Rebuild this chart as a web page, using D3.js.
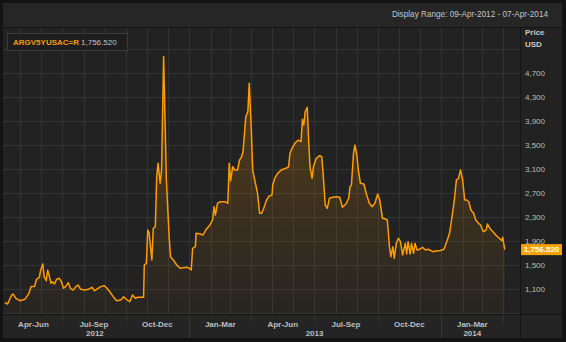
<!DOCTYPE html>
<html>
<head>
<meta charset="utf-8">
<script src="https://cdn.jsdelivr.net/npm/d3@7"></script>
<style>
	html, body { margin: 0; padding: 0; background: #131313; }
	svg { display: block; font-family: "Liberation Sans", Arial, sans-serif; }
</style>
</head>
<body>
<svg id="chart" width="566" height="342"></svg>
<script>
const ric = 'ARGV5YUSAC=R';
const displayRange = 'Display Range: 09-Apr-2012 - 07-Apr-2014';
const axisTitle = ['Price', 'USD'];

const dates = [
	'2012-04-09','2012-04-13','2012-04-19','2012-04-21','2012-04-25',
	'2012-05-01','2012-05-08','2012-05-14','2012-05-17','2012-05-22','2012-05-25','2012-05-29','2012-05-31',
	'2012-06-03','2012-06-05','2012-06-08','2012-06-10','2012-06-12','2012-06-15','2012-06-17','2012-06-20','2012-06-23','2012-06-27','2012-06-30',
	'2012-07-03','2012-07-06','2012-07-10','2012-07-13','2012-07-17','2012-07-21','2012-07-24','2012-07-28',
	'2012-08-03','2012-08-08','2012-08-13','2012-08-17','2012-08-22','2012-08-26','2012-08-31',
	'2012-09-04','2012-09-08','2012-09-13','2012-09-18','2012-09-24','2012-09-28',
	'2012-10-03','2012-10-07','2012-10-11','2012-10-15','2012-10-19','2012-10-27','2012-10-28','2012-10-31',
	'2012-11-02','2012-11-04','2012-11-08','2012-11-10','2012-11-13','2012-11-15','2012-11-17','2012-11-20','2012-11-22','2012-11-25','2012-11-27','2012-11-29',
	'2012-12-03','2012-12-05','2012-12-09','2012-12-14','2012-12-19','2012-12-28','2012-12-31',
	'2013-01-04','2013-01-06','2013-01-10','2013-01-11','2013-01-17','2013-01-21','2013-01-25','2013-01-31',
	'2013-02-04','2013-02-06','2013-02-08','2013-02-11','2013-02-15','2013-02-22','2013-02-26','2013-02-28',
	'2013-03-02','2013-03-05','2013-03-08','2013-03-12','2013-03-15','2013-03-18','2013-03-20','2013-03-24','2013-03-27','2013-03-29',
	'2013-04-01','2013-04-03','2013-04-06','2013-04-10','2013-04-13','2013-04-16','2013-04-19','2013-04-23','2013-04-27',
	'2013-05-01','2013-05-02','2013-05-05','2013-05-09','2013-05-12','2013-05-14','2013-05-17','2013-05-21','2013-05-25','2013-05-27','2013-05-30',
	'2013-06-03','2013-06-08','2013-06-12','2013-06-14','2013-06-16','2013-06-18','2013-06-21','2013-06-23','2013-06-25','2013-06-28','2013-06-30',
	'2013-07-04','2013-07-09','2013-07-12','2013-07-14','2013-07-17','2013-07-20','2013-07-23','2013-07-28',
	'2013-08-02','2013-08-07','2013-08-11','2013-08-16','2013-08-20','2013-08-22','2013-08-24','2013-08-27','2013-08-29',
	'2013-09-01','2013-09-03','2013-09-06','2013-09-11','2013-09-15','2013-09-19','2013-09-23','2013-09-27',
	'2013-10-01','2013-10-04','2013-10-08','2013-10-13','2013-10-15','2013-10-18','2013-10-20','2013-10-23','2013-10-25','2013-10-28','2013-10-31',
	'2013-11-03','2013-11-06','2013-11-10','2013-11-12','2013-11-14','2013-11-17','2013-11-19','2013-11-22','2013-11-24','2013-11-27',
	'2013-12-01','2013-12-05','2013-12-09','2013-12-13','2013-12-20','2013-12-26','2013-12-30',
	'2014-01-05','2014-01-09','2014-01-13','2014-01-16','2014-01-20','2014-01-23','2014-01-26','2014-01-29',
	'2014-02-01','2014-02-04','2014-02-07','2014-02-10','2014-02-13','2014-02-17','2014-02-20','2014-02-24','2014-02-27',
	'2014-03-03','2014-03-07','2014-03-09','2014-03-13','2014-03-17','2014-03-21','2014-03-26','2014-03-30','2014-03-31',
	'2014-04-03'
];

const prices = [
	872, 850, 1000, 1017, 945,
	905, 928, 1028, 1140, 1140, 1262, 1295, 1417,
	1517, 1305, 1238, 1417, 1333, 1195, 1222, 1183, 1262, 1278, 1222,
	1112, 1140, 1205, 1112, 1083, 1140, 1167, 1095,
	1083, 1095, 1128, 1072, 1112, 1140, 1155,
	1112, 1055, 972, 905, 917, 972,
	917, 888, 1000, 945, 962, 962, 1500, 1528,
	2083, 2028, 1583, 2112, 2138, 2972, 3195, 2862, 3083, 4972, 3972, 2917,
	1972, 1638, 1583, 1500, 1445, 1462, 1455,
	1417, 1778, 1805, 2028, 2017, 2000, 2083, 2167,
	2250, 2472, 2333, 2528, 2555, 2555, 2528, 3195,
	2900, 3138, 3083, 3083, 3250, 3305, 3388, 3972, 4055, 4528,
	3750, 3083, 2917, 2695, 2362, 2362, 2445, 2583, 2650,
	2667, 2833, 2945, 3028, 3055, 3083, 3095, 3112, 3138, 3362, 3445,
	3528, 3583, 3555, 3928, 3833, 4055, 4128, 3583, 3138, 2945, 3138,
	3278, 3322, 3305, 3028, 2500, 2445, 2612, 2628,
	2638, 2628, 2462, 2517, 2612, 2805, 2833, 3362, 3500,
	3317, 3083, 2862, 2850, 2667, 2528, 2472, 2528,
	2683, 2583, 2278, 2262, 2250, 1805, 1638, 1805, 1612, 1862, 1945,
	1888, 1667, 1862, 1683, 1888, 1683, 1862, 1695, 1862, 1750,
	1762, 1795, 1750, 1762, 1722, 1738, 1738,
	1762, 1888, 2028, 2250, 2583, 2917, 2945, 3083,
	2917, 2583, 2583, 2555, 2417, 2362, 2250, 2195, 2167,
	2055, 2083, 2183, 2100, 2055, 2000, 1945, 1905, 1962,
	1756.52
];

const yTicks = [1100, 1500, 1900, 2300, 2700, 3100, 3500, 3900, 4300, 4700];
const yGrid = [700, 1100, 1500, 1900, 2300, 2700, 3100, 3500, 3900, 4300, 4700, 5100];
const quarterNames = ['Jan-Mar', 'Apr-Jun', 'Jul-Sep', 'Oct-Dec'];
const xDomain = ['2012-04-09', '2014-04-28'];
const yDomain = [700, 5467];

const parse = d3.timeParse('%Y-%m-%d');
const series = dates.map((d, i) => ({date: parse(d), value: prices[i]}));
const last = series[series.length - 1];

const W = 566, H = 342;
const plot = {x1: 3, x2: 520, y1: 28, y2: 314};
const band = {y1: 315, y2: 338};
const right = {x1: 521, x2: 562};

const x = d3.scaleTime()
	.domain(xDomain.map(parse))
	.range([4.8, plot.x2 + 2]);

const y = d3.scaleLinear()
	.domain(yDomain)
	.range([plot.y2 - 1, plot.y1 - 1]);

const svg = d3.select('#chart');

// panels
svg.append('rect').attr('width', W).attr('height', H).attr('fill', '#131313');
svg.append('rect')
	.attr('x', 3).attr('y', 3)
	.attr('width', right.x2 - 3).attr('height', 24)
	.attr('fill', '#262626');
svg.append('rect')
	.attr('x', plot.x1).attr('y', plot.y1)
	.attr('width', plot.x2 - plot.x1).attr('height', plot.y2 - plot.y1)
	.attr('fill', '#222222');
svg.append('rect')
	.attr('x', right.x1).attr('y', plot.y1)
	.attr('width', right.x2 - right.x1).attr('height', plot.y2 - plot.y1)
	.attr('fill', '#222222');
svg.append('rect')
	.attr('x', plot.x1).attr('y', band.y1)
	.attr('width', plot.x2 - plot.x1).attr('height', band.y2 - band.y1)
	.attr('fill', '#242424');
svg.append('rect')
	.attr('x', right.x1).attr('y', band.y1)
	.attr('width', right.x2 - right.x1).attr('height', band.y2 - band.y1)
	.attr('fill', '#242424');

svg.append('text')
	.attr('x', 548).attr('y', 15)
	.attr('text-anchor', 'end')
	.attr('dominant-baseline', 'middle')
	.attr('fill', '#c4c4c4')
	.style('font-size', '8.2px')
	.text(displayRange);

// grid
const clip = svg.append('defs').append('clipPath').attr('id', 'plot_clip');
clip.append('rect')
	.attr('x', plot.x1).attr('y', plot.y1)
	.attr('width', plot.x2 - plot.x1).attr('height', plot.y2 - plot.y1);

const gGrid = svg.append('g').attr('class', 'g_grid');
gGrid.selectAll('.h_grid')
	.data(yGrid).enter()
	.append('line')
	.attr('class', 'h_grid')
	.attr('x1', plot.x1).attr('x2', plot.x2)
	.attr('y1', d => Math.round(y(d)) + 0.5)
	.attr('y2', d => Math.round(y(d)) + 0.5)
	.attr('stroke', '#333333');

const months = d3.timeMonth.range(d3.timeMonth.ceil(x.domain()[0]), x.domain()[1]);
gGrid.selectAll('.v_grid')
	.data(months).enter()
	.append('line')
	.attr('class', 'v_grid')
	.attr('x1', d => Math.round(x(d)) + 0.5)
	.attr('x2', d => Math.round(x(d)) + 0.5)
	.attr('y1', plot.y1).attr('y2', plot.y2)
	.attr('stroke', '#333333');

// area + line
const grad = svg.select('defs').append('linearGradient')
	.attr('id', 'area_grad')
	.attr('gradientUnits', 'userSpaceOnUse')
	.attr('x1', 0).attr('y1', y(5000))
	.attr('x2', 0).attr('y2', plot.y2);
grad.append('stop').attr('offset', 0).attr('stop-color', '#ff9900').attr('stop-opacity', 0.26);
grad.append('stop').attr('offset', 1).attr('stop-color', '#ff9900').attr('stop-opacity', 0.02);

const gData = svg.append('g').attr('clip-path', 'url(#plot_clip)');
gData.append('path')
	.datum(series)
	.attr('fill', 'url(#area_grad)')
	.attr('d', d3.area()
		.x(d => x(d.date))
		.y0(plot.y2)
		.y1(d => y(d.value)));

gData.append('path')
	.datum(series)
	.attr('fill', 'none')
	.attr('stroke', '#ff9c00')
	.attr('stroke-width', 1.5)
	.attr('stroke-linejoin', 'round')
	.attr('d', d3.line()
		.x(d => x(d.date))
		.y(d => y(d.value)));

// separators
const sep = svg.append('g').attr('stroke', '#151515');
sep.append('line').attr('x1', 3).attr('x2', right.x2).attr('y1', 27.5).attr('y2', 27.5);
sep.append('line').attr('x1', 3).attr('x2', right.x2).attr('y1', 314.5).attr('y2', 314.5);
sep.append('line').attr('x1', plot.x2 + 0.5).attr('x2', plot.x2 + 0.5).attr('y1', 28).attr('y2', band.y2);

// y axis
const gY = svg.append('g')
	.attr('class', 'g_axis_y')
	.attr('transform', 'translate(' + (plot.x2 + 1) + ',0)')
	.call(d3.axisRight(y)
		.tickValues(yTicks)
		.tickFormat(d3.format(','))
		.tickSize(0)
		.tickPadding(4));
gY.select('.domain').remove();
gY.selectAll('text')
	.attr('fill', '#bdbdbd')
	.style('font-size', '8px')
	.style('font-family', '"Liberation Sans", Arial, sans-serif');

svg.selectAll('.axis_title')
	.data(axisTitle).enter()
	.append('text')
	.attr('class', 'axis_title')
	.attr('x', 525)
	.attr('y', (d, i) => 33 + i * 12)
	.attr('dominant-baseline', 'middle')
	.attr('fill', '#c8c8c8')
	.style('font-size', '8px')
	.style('font-weight', 'bold')
	.text(d => d);

// last value tag
const gTag = svg.append('g').attr('transform', 'translate(' + right.x1 + ',' + y(last.value) + ')');
gTag.append('rect')
	.attr('x', 0).attr('y', -5.5)
	.attr('width', 41).attr('height', 11)
	.attr('fill', '#f7a300');
gTag.append('text')
	.attr('x', 20.5).attr('y', 0.5)
	.attr('text-anchor', 'middle')
	.attr('dominant-baseline', 'middle')
	.attr('fill', '#ffffff')
	.style('font-size', '8px')
	.style('font-weight', 'bold')
	.text(d3.format(',.3f')(last.value));

// x axis band: quarter / year labels
const lastDate = last.date;
const quarters = d3.timeMonth.every(3).range(d3.timeYear.floor(x.domain()[0]), x.domain()[1])
	.map(q => {
		const q2 = d3.timeMonth.offset(q, 3);
		const a = x(q < x.domain()[0] ? x.domain()[0] : q);
		const b = x(q2 > lastDate ? lastDate : q2);
		return {start: q, cx: (a + b) / 2, w: b - a, name: quarterNames[q.getMonth() / 3], year: q.getFullYear()};
	})
	.filter(q => q.w > 20);

const gX = svg.append('g').attr('class', 'g_axis_x');
gX.selectAll('.q_label')
	.data(quarters).enter()
	.append('text')
	.attr('class', 'q_label')
	.attr('x', d => d.cx)
	.attr('y', 324.5)
	.attr('text-anchor', 'middle')
	.attr('dominant-baseline', 'middle')
	.attr('fill', '#bfbfbf')
	.style('font-size', '8px')
	.style('font-weight', 'bold')
	.text(d => d.name);

const years = d3.groups(quarters, d => d.year)
	.map(([yr, qs]) => ({year: yr, cx: d3.mean(qs, q => q.cx)}));
gX.selectAll('.y_label')
	.data(years).enter()
	.append('text')
	.attr('class', 'y_label')
	.attr('x', d => d.cx)
	.attr('y', 333.5)
	.attr('text-anchor', 'middle')
	.attr('dominant-baseline', 'middle')
	.attr('fill', '#bfbfbf')
	.style('font-size', '8px')
	.style('font-weight', 'bold')
	.text(d => d.year);

const qTicks = d3.timeMonth.every(3).range(d3.timeMonth.ceil(x.domain()[0]), x.domain()[1]);
gX.selectAll('.q_tick')
	.data(qTicks).enter()
	.append('line')
	.attr('class', 'q_tick')
	.attr('x1', d => Math.round(x(d)) + 0.5)
	.attr('x2', d => Math.round(x(d)) + 0.5)
	.attr('y1', band.y1)
	.attr('y2', d => d.getMonth() === 0 ? band.y2 : band.y1 + 7)
	.attr('stroke', '#363636');

// legend
const gLeg = svg.append('g').attr('class', 'g_legend');
gLeg.append('rect')
	.attr('x', 7.5).attr('y', 33.5)
	.attr('width', 120).attr('height', 17)
	.attr('fill', '#1e1e1e')
	.attr('stroke', '#3a3a3a');
const legText = gLeg.append('text')
	.attr('x', 13).attr('y', 42.5)
	.attr('dominant-baseline', 'middle')
	.style('font-size', '8px');
legText.append('tspan')
	.attr('fill', '#f39a12')
	.style('font-weight', 'bold')
	.text(ric);
legText.append('tspan')
	.attr('fill', '#c4c4c4')
	.attr('dx', 2)
	.text(d3.format(',.3f')(last.value));
</script>
</body>
</html>
